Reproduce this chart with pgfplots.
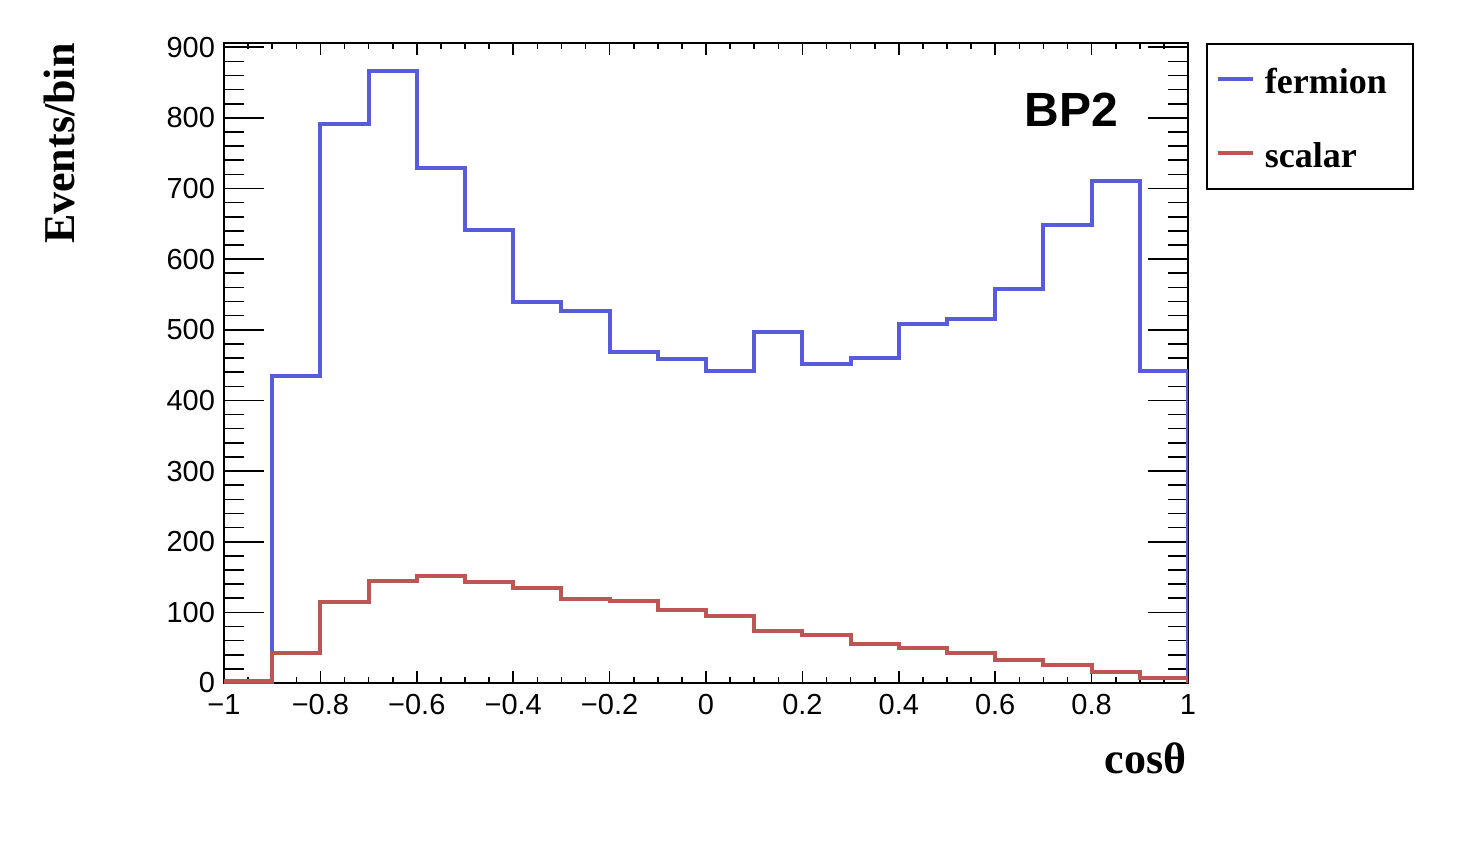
\documentclass[border=0pt]{standalone}
\usepackage{fontspec}
\setmainfont{Liberation Serif}
\newfontfamily\helv{Liberation Sans}
\usepackage{pgfplots}
\pgfplotsset{compat=1.18}
\definecolor{fermblue}{RGB}{88,92,218}
\definecolor{scalred}{RGB}{190,85,85}
\begin{document}
\begin{tikzpicture}
\path[use as bounding box] (-112pt,-78.5pt) rectangle (623pt,341.5pt);
\begin{axis}[
  scale only axis, width=482pt, height=320pt,
  xmin=-1, xmax=1, ymin=0, ymax=906,
  xtick={-1,-0.8,-0.6,-0.4,-0.2,0,0.2,0.4,0.6,0.8,1},
  xticklabels={−1,−0.8,−0.6,−0.4,−0.2,0,0.2,0.4,0.6,0.8,1},
  ytick={0,100,200,300,400,500,600,700,800,900},
  minor x tick num=3, minor y tick num=4,
  axis line style={line width=1pt},
  tick style={line width=0.8pt, black},
  every major x tick/.append style={/pgfplots/major tick length=6pt},
  every minor x tick/.append style={/pgfplots/minor tick length=3pt},
  every major y tick/.append style={/pgfplots/major tick length=20pt},
  every minor y tick/.append style={/pgfplots/minor tick length=10pt},
  tick label style={font=\helv\fontsize{14.5}{16}\selectfont},
  x tick label style={yshift=-2pt},
  y tick label style={xshift=-1pt},
  /pgf/number format/assume math mode=true,
  legend cell align=left,
  legend style={at={(axis description cs:1.0187,1)}, anchor=north west,
    draw=black, line width=0.8pt, font=\bfseries\fontsize{18}{20}\selectfont,
    inner xsep=4.5pt, inner ysep=9pt, row sep=19.5pt,
    nodes={inner sep=0pt},
    /tikz/every odd column/.append style={column sep=5pt},
    /tikz/every even column/.append style={text width=69.5pt, text height=16pt, text depth=0pt}},
  legend image code/.code={\draw[#1] (0pt,0pt) -- (17.5pt,0pt);},
]
% fermion, 20 bins of 0.1
\addplot[const plot, color=fermblue, line width=2pt] coordinates {
  (-1,0) (-0.9,434) (-0.8,792) (-0.7,866) (-0.6,729) (-0.5,641)
  (-0.4,539) (-0.3,526) (-0.2,468) (-0.1,459) (0,441)
  (0.1,497) (0.2,451) (0.3,460) (0.4,508) (0.5,515)
  (0.6,558) (0.7,649) (0.8,710) (0.9,441) (1,441) (1,0)
};
\addlegendentry{fermion}
% scalar
\addplot[const plot, color=scalred, line width=2pt] coordinates {
  (-1,3) (-0.9,43) (-0.8,114) (-0.7,144) (-0.6,152) (-0.5,143)
  (-0.4,135) (-0.3,119) (-0.2,116) (-0.1,104) (0,95)
  (0.1,74) (0.2,68) (0.3,55) (0.4,49) (0.5,43)
  (0.6,32) (0.7,25) (0.8,16) (0.9,7) (1,7) (1,0)
};
\addlegendentry{scalar}
\end{axis}
\node[rotate=90, anchor=base east, inner sep=0pt, font=\bfseries\fontsize{22}{24}\selectfont] at (-74.5pt,320pt) {Events/bin};
\node[anchor=base east, inner sep=0pt, font=\bfseries\fontsize{22}{24}\selectfont] at (481.5pt,-45pt) {cosθ};
\node[anchor=base west, inner sep=0pt, font=\helv\bfseries\fontsize{24}{26}\selectfont] at (400pt,278pt) {BP2};
\end{tikzpicture}
\end{document}
